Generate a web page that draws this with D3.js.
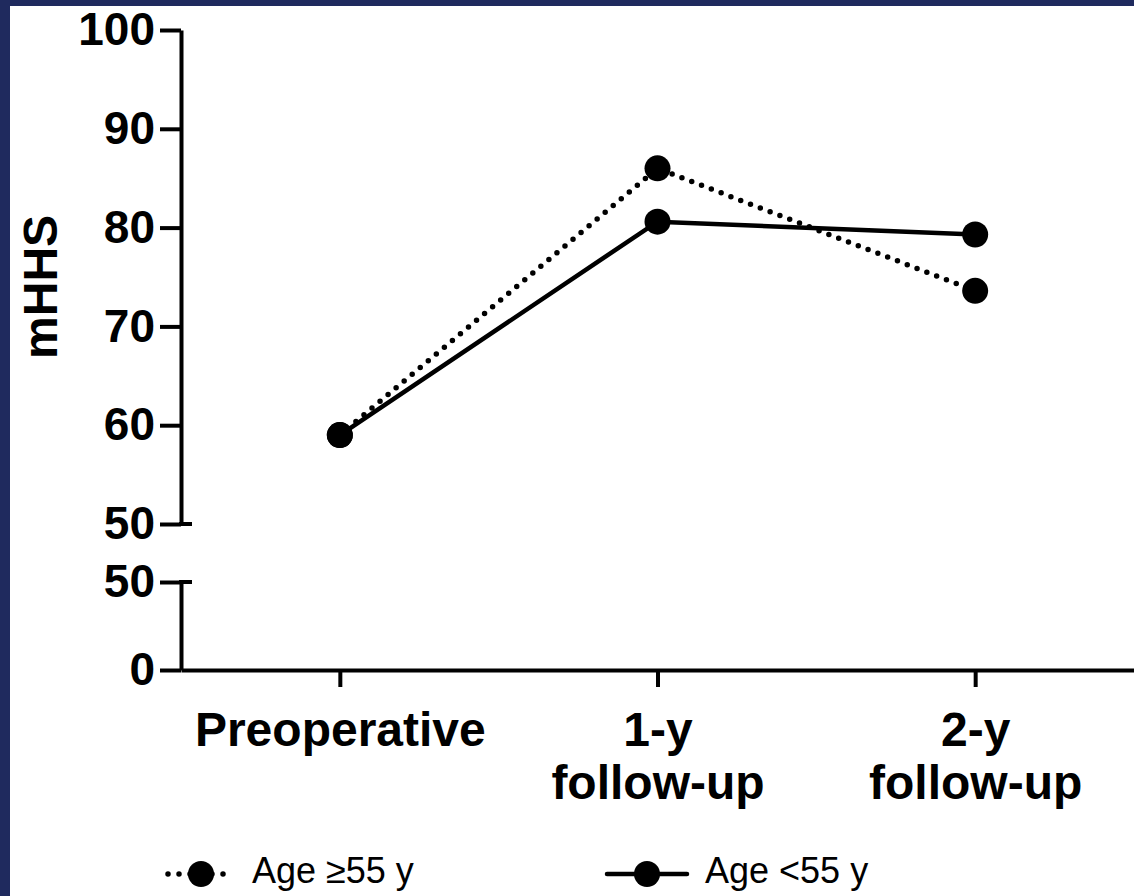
<!DOCTYPE html>
<html>
<head>
<meta charset="utf-8">
<script src="https://cdn.jsdelivr.net/npm/d3@7"></script>
<style>
  html, body { margin: 0; padding: 0; background: #1f2a5e; }
  svg { display: block; }
</style>
</head>
<body>
<div id="chart"></div>
<script>
const categories = ["Preoperative", "1-y\nfollow-up", "2-y\nfollow-up"];
const olderValues = [59.0, 86.0, 73.6];   // Age >=55 y (dotted)
const youngerValues = [59.0, 80.6, 79.3]; // Age <55 y (solid)
const upperTicks = [50, 60, 70, 80, 90, 100];
const lowerTicks = [0, 50];

const width = 1134, height = 896;
const font = "'Liberation Sans', Arial, Helvetica, sans-serif";

const svg = d3.select("#chart")
    .append("svg")
    .attr("width", width)
    .attr("height", height);

// navy frame, white panel
svg.append("rect")
    .attr("x", 10).attr("y", 6)
    .attr("width", width - 10).attr("height", height - 6)
    .attr("fill", "#fff");

const axisX = 181;

const yTop = d3.scaleLinear().domain([50, 100]).range([524, 30]);
const yBot = d3.scaleLinear().domain([0, 50]).range([670, 582]);

const x = d3.scalePoint()
    .domain(categories)
    .range([axisX, width])
    .padding(0.5);

function styleAxis(g, size) {
    g.selectAll("path.domain").attr("stroke", "#000").attr("stroke-width", 4);
    g.selectAll(".tick line").attr("stroke", "#000").attr("stroke-width", 4);
    g.selectAll(".tick text")
        .attr("fill", "#000")
        .style("font-family", font)
        .style("font-weight", "bold")
        .style("font-size", size + "px");
}

// upper y segment
const gTop = svg.append("g")
    .attr("transform", `translate(${axisX},0)`)
    .call(d3.axisLeft(yTop).tickValues(upperTicks).tickSize(21).tickSizeOuter(0).tickPadding(5));
styleAxis(gTop, 46);

// lower y segment
const gBot = svg.append("g")
    .attr("transform", `translate(${axisX},0)`)
    .call(d3.axisLeft(yBot).tickValues(lowerTicks).tickSize(21).tickSizeOuter(0).tickPadding(5));
styleAxis(gBot, 46);

// break caps on both 50 ticks
[yTop(50), yBot(50)].forEach(yy => {
    svg.append("line")
        .attr("x1", axisX - 2).attr("x2", axisX + 11)
        .attr("y1", yy).attr("y2", yy)
        .attr("stroke", "#000").attr("stroke-width", 4);
});

// x axis
const gX = svg.append("g")
    .attr("transform", `translate(0,${yBot(0)})`)
    .call(d3.axisBottom(x).tickSize(17).tickSizeOuter(0).tickFormat(""));
styleAxis(gX, 48);

gX.selectAll(".tick").each(function(d) {
    const t = d3.select(this).append("text")
        .attr("text-anchor", "middle")
        .attr("fill", "#000")
        .style("font-family", font)
        .style("font-weight", "bold")
        .style("font-size", "48px");
    d.split("\n").forEach((s, i) => {
        t.append("tspan").attr("x", 0).attr("y", 76 + i * 53).text(s);
    });
});

// y axis title
svg.append("text")
    .attr("transform", `translate(57,${yTop(74)}) rotate(-90)`)
    .attr("text-anchor", "middle")
    .style("font-family", font)
    .style("font-weight", "bold")
    .style("font-size", "48px")
    .text("mHHS");

const line = d3.line()
    .x((d, i) => x(categories[i]))
    .y(d => yTop(d));

svg.append("path")
    .datum(olderValues)
    .attr("d", line)
    .attr("fill", "none")
    .attr("stroke", "#000")
    .attr("stroke-width", 5.5)
    .attr("stroke-linecap", "round")
    .attr("stroke-dasharray", "0 10.5");

svg.append("path")
    .datum(youngerValues)
    .attr("d", line)
    .attr("fill", "none")
    .attr("stroke", "#000")
    .attr("stroke-width", 4.5);

[olderValues, youngerValues].forEach(vals => {
    svg.selectAll(null)
        .data(vals)
        .enter()
        .append("circle")
        .attr("cx", (d, i) => x(categories[i]))
        .attr("cy", d => yTop(d))
        .attr("r", 13)
        .attr("fill", "#000");
});

// legend
const legend = [
    { label: "Age \u226555 y", dotted: true, x0: 168 },
    { label: "Age <55 y", dotted: false, x0: 607 }
];
const ly = 874;
legend.forEach(item => {
    const len = item.dotted ? 66 : 80;
    const g = svg.append("g").attr("transform", `translate(${item.x0},${ly})`);
    g.append("line")
        .attr("x1", 0).attr("x2", len)
        .attr("y1", 0).attr("y2", 0)
        .attr("stroke", "#000")
        .attr("stroke-width", item.dotted ? 5.5 : 4.5)
        .attr("stroke-linecap", "round")
        .attr("stroke-dasharray", item.dotted ? "0 11" : null);
    g.append("circle")
        .attr("cx", len / 2)
        .attr("cy", 0)
        .attr("r", 13)
        .attr("fill", "#000");
    g.append("text")
        .attr("x", item.dotted ? 84 : 98)
        .attr("y", 9)
        .style("font-family", font)
        .style("font-size", "36px")
        .text(item.label);
});
</script>
</body>
</html>
